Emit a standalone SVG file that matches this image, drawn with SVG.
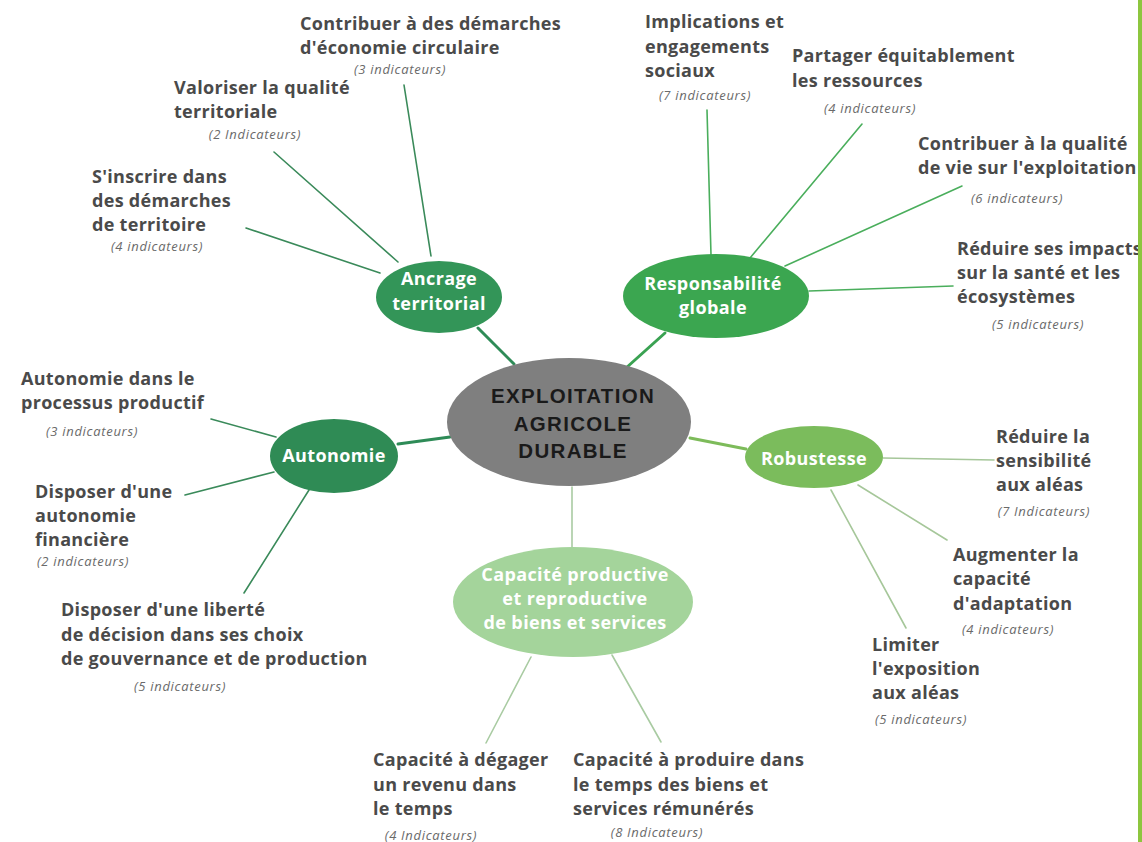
<svg xmlns="http://www.w3.org/2000/svg" width="1142" height="842" viewBox="0 0 1142 842">
<style>
.lbl{font-family:"Open Sans","Liberation Sans",sans-serif;font-weight:700;font-size:18px;letter-spacing:0.3px;fill:#4a4a4a}
.ind{font-family:"Open Sans","Liberation Sans",sans-serif;font-style:italic;font-size:13px;letter-spacing:0.7px;fill:#6a6a6a;text-anchor:middle}
.nt{font-family:"Open Sans","Liberation Sans",sans-serif;font-weight:700;font-size:18px;letter-spacing:0.4px;fill:#ffffff;text-anchor:middle}
.ct{font-family:"Liberation Sans","Roboto",sans-serif;font-weight:700;font-size:20.5px;fill:#1a1a1a;text-anchor:middle;letter-spacing:1.3px}
.l{fill:none;stroke-linecap:round}
.dk{stroke:#3a8a5a;stroke-width:1.6}
.md{stroke:#4aae5c;stroke-width:1.6}
.lt{stroke:#a6c79a;stroke-width:1.6}
.cp{stroke:#a9cba2;stroke-width:1.6}
.main{stroke-width:3}
</style>
<rect width="1142" height="842" fill="#ffffff"/>
<g id="connectors">
<line class="l dk" x1="404" y1="85" x2="431" y2="256"/>
<line class="l dk" x1="274" y1="152" x2="398" y2="262"/>
<line class="l dk" x1="246" y1="228" x2="380" y2="273"/>
<line class="l main" stroke="#2e8b57" x1="478" y1="328" x2="514" y2="364"/>
<line class="l md" x1="707" y1="110" x2="711" y2="255"/>
<line class="l md" x1="862" y1="124" x2="750" y2="258"/>
<line class="l md" x1="962" y1="186" x2="785" y2="266"/>
<line class="l md" x1="953" y1="286" x2="809" y2="291"/>
<line class="l main" stroke="#3aa252" x1="665" y1="333" x2="626" y2="368"/>
<line class="l dk" x1="211" y1="419" x2="276" y2="437"/>
<line class="l dk" x1="185" y1="495" x2="274" y2="472"/>
<line class="l dk" x1="244" y1="593" x2="309" y2="490"/>
<line class="l main" stroke="#2e8b57" x1="398" y1="444" x2="450" y2="437"/>
<line class="l lt" x1="883" y1="458" x2="994" y2="460"/>
<line class="l lt" x1="858" y1="485" x2="947" y2="540"/>
<line class="l lt" x1="831" y1="490" x2="906" y2="628"/>
<line class="l main" stroke="#7dbb5a" x1="690" y1="438" x2="746" y2="449"/>
<line class="l cp" stroke-width="2.2" x1="572" y1="487" x2="572" y2="547"/>
<line class="l cp" x1="531" y1="657" x2="486" y2="743"/>
<line class="l cp" x1="612" y1="655" x2="661" y2="742"/>
</g>
<g id="center">
<ellipse cx="569" cy="422" rx="122" ry="64" fill="#7f7f7f"/>
<text class="ct" x="573" y="403">EXPLOITATION</text>
<text class="ct" x="573" y="431">AGRICOLE</text>
<text class="ct" x="573" y="458">DURABLE</text>
</g>
<g id="ancrage">
<ellipse cx="439" cy="297" rx="63" ry="36" fill="#339558"/>
<text class="nt" x="439" y="285">Ancrage</text>
<text class="nt" x="439" y="310">territorial</text>
</g>
<g id="responsabilite">
<ellipse cx="716" cy="296" rx="93" ry="42" fill="#3ba650"/>
<text class="nt" x="713" y="290" font-size="19">Responsabilité</text>
<text class="nt" x="713" y="314" font-size="19">globale</text>
</g>
<g id="autonomie">
<ellipse cx="334" cy="456" rx="64" ry="37" fill="#2f8b55"/>
<text class="nt" x="334" y="462">Autonomie</text>
</g>
<g id="robustesse">
<ellipse cx="814" cy="457" rx="69" ry="31" fill="#7bbc5c"/>
<text class="nt" x="814" y="465">Robustesse</text>
</g>
<g id="capacite">
<ellipse cx="573" cy="602" rx="120" ry="55" fill="#a4d49b"/>
<text class="nt" x="575" y="581">Capacité productive</text>
<text class="nt" x="575" y="605">et  reproductive</text>
<text class="nt" x="575" y="629">de biens et services</text>
</g>
<g id="leaf-economie-circulaire">
<text class="lbl" x="300" y="30">Contribuer à des démarches</text>
<text class="lbl" x="300" y="54">d'économie circulaire</text>
<text class="ind" x="400" y="74">(3 indicateurs)</text>
</g>
<g id="leaf-qualite-territoriale">
<text class="lbl" x="174" y="94">Valoriser la qualité</text>
<text class="lbl" x="174" y="118">territoriale</text>
<text class="ind" x="255" y="139">(2 Indicateurs)</text>
</g>
<g id="leaf-demarches-territoire">
<text class="lbl" x="92" y="183">S'inscrire dans</text>
<text class="lbl" x="92" y="207">des démarches</text>
<text class="lbl" x="92" y="231">de territoire</text>
<text class="ind" x="157" y="251">(4 indicateurs)</text>
</g>
<g id="leaf-implications">
<text class="lbl" x="645" y="28">Implications et</text>
<text class="lbl" x="645" y="53">engagements</text>
<text class="lbl" x="645" y="77">sociaux</text>
<text class="ind" x="705" y="100">(7 indicateurs)</text>
</g>
<g id="leaf-partager">
<text class="lbl" x="792" y="62">Partager équitablement</text>
<text class="lbl" x="792" y="87">les ressources</text>
<text class="ind" x="870" y="113">(4 indicateurs)</text>
</g>
<g id="leaf-qualite-vie">
<text class="lbl" x="918" y="150">Contribuer à la qualité</text>
<text class="lbl" x="918" y="174">de vie sur l'exploitation</text>
<text class="ind" x="1017" y="203">(6 indicateurs)</text>
</g>
<g id="leaf-impacts">
<text class="lbl" x="957" y="255">Réduire ses impacts</text>
<text class="lbl" x="957" y="279">sur la santé et les</text>
<text class="lbl" x="957" y="303">écosystèmes</text>
<text class="ind" x="1038" y="329">(5 indicateurs)</text>
</g>
<g id="leaf-autonomie-processus">
<text class="lbl" x="21" y="385">Autonomie dans le</text>
<text class="lbl" x="21" y="409">processus productif</text>
<text class="ind" x="92" y="436">(3 indicateurs)</text>
</g>
<g id="leaf-autonomie-financiere">
<text class="lbl" x="35" y="498">Disposer d'une</text>
<text class="lbl" x="35" y="522">autonomie</text>
<text class="lbl" x="35" y="546">financière</text>
<text class="ind" x="83" y="566">(2 indicateurs)</text>
</g>
<g id="leaf-liberte-decision">
<text class="lbl" x="61" y="616">Disposer d'une liberté</text>
<text class="lbl" x="61" y="641">de décision dans ses choix</text>
<text class="lbl" x="61" y="665">de gouvernance et de production</text>
<text class="ind" x="180" y="691">(5 indicateurs)</text>
</g>
<g id="leaf-revenu">
<text class="lbl" x="373" y="766">Capacité à dégager</text>
<text class="lbl" x="373" y="791">un revenu dans</text>
<text class="lbl" x="373" y="815">le temps</text>
<text class="ind" x="431" y="840">(4 Indicateurs)</text>
</g>
<g id="leaf-produire">
<text class="lbl" x="573" y="766">Capacité à produire dans</text>
<text class="lbl" x="573" y="791">le temps des biens et</text>
<text class="lbl" x="573" y="815">services rémunérés</text>
<text class="ind" x="657" y="837">(8 Indicateurs)</text>
</g>
<g id="leaf-sensibilite">
<text class="lbl" x="996" y="443">Réduire la</text>
<text class="lbl" x="996" y="467">sensibilité</text>
<text class="lbl" x="996" y="491">aux aléas</text>
<text class="ind" x="1044" y="516">(7 Indicateurs)</text>
</g>
<g id="leaf-adaptation">
<text class="lbl" x="953" y="561">Augmenter la</text>
<text class="lbl" x="953" y="585">capacité</text>
<text class="lbl" x="953" y="610">d'adaptation</text>
<text class="ind" x="1008" y="634">(4 indicateurs)</text>
</g>
<g id="leaf-exposition">
<text class="lbl" x="872" y="651">Limiter</text>
<text class="lbl" x="872" y="675">l'exposition</text>
<text class="lbl" x="872" y="699">aux aléas</text>
<text class="ind" x="921" y="724">(5 indicateurs)</text>
</g>
<rect id="edge-bar" x="1138" y="0" width="4" height="842" fill="#8dc63f"/>
</svg>
